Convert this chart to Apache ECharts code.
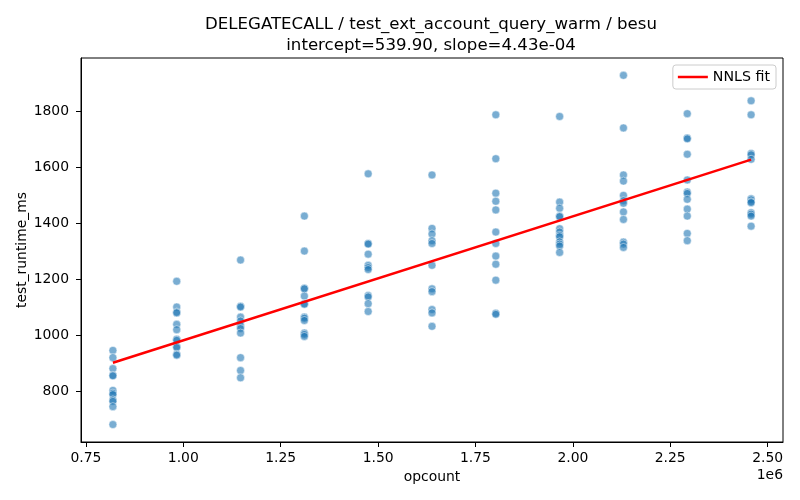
<!DOCTYPE html>
<html>
<head>
<meta charset="utf-8">
<title>DELEGATECALL / test_ext_account_query_warm / besu</title>
<script src="https://cdn.jsdelivr.net/npm/echarts@6/dist/echarts.min.js"></script>
<style>
  html, body { margin: 0; padding: 0; background: #fff; }
  #chart { width: 800px; height: 500px; }
</style>
</head>
<body>
<div id="chart"></div>
<script>
// opcount levels (x) and runtimes measured at each level (ms)
var opcounts = [819200, 983040, 1146880, 1310720, 1474560, 1638400, 1802240, 1966080, 2129920, 2293760, 2457600];
var runtimes = [
  [947, 921, 882, 858, 856, 804, 794, 789, 770, 765, 746, 682],
  [1194, 1102, 1084, 1081, 1040, 1021, 987, 983, 961, 957, 933, 930],
  [1270, 1105, 1102, 1066, 1052, 1035, 1025, 1009, 921, 875, 849],
  [1427, 1302, 1169, 1167, 1141, 1114, 1112, 1066, 1062, 1054, 1009, 1004, 997],
  [1578, 1329, 1327, 1291, 1251, 1243, 1236, 1143, 1138, 1114, 1086],
  [1574, 1383, 1363, 1339, 1329, 1251, 1167, 1157, 1093, 1081, 1033],
  [1789, 1632, 1509, 1480, 1449, 1370, 1329, 1284, 1255, 1198, 1080, 1076],
  [1783, 1477, 1455, 1427, 1425, 1382, 1370, 1358, 1353, 1335, 1327, 1320, 1297],
  [1930, 1742, 1574, 1552, 1501, 1482, 1473, 1442, 1415, 1334, 1327, 1315],
  [1793, 1706, 1703, 1648, 1556, 1513, 1508, 1487, 1452, 1427, 1365, 1339],
  [1839, 1789, 1651, 1646, 1630, 1489, 1485, 1478, 1475, 1439, 1434, 1427, 1391]
];
// NNLS fit line end points
var fitX = [819200, 2457600];
var fitY = [902.8, 1628.6];
var xTicks = [750000, 1000000, 1250000, 1500000, 1750000, 2000000, 2250000, 2500000];
var yTicks = [800, 1000, 1200, 1400, 1600, 1800];

var points = [];
opcounts.forEach(function (x, i) {
  runtimes[i].forEach(function (y) { points.push([x, y]); });
});
var fitLine = fitX.map(function (x, i) { return [x, fitY[i]]; });

var font = 'DejaVu Sans';
var chart = echarts.init(document.getElementById('chart'), null, {renderer: 'canvas'});
chart.setOption({
  animation: false,
  backgroundColor: '#fff',
  textStyle: {fontFamily: font},
  title: {
    text: 'DELEGATECALL / test_ext_account_query_warm / besu\nintercept=539.90, slope=4.43e-04',
    left: 426, top: 9, textAlign: 'center',
    textStyle: {fontFamily: font, fontSize: 16.6, fontWeight: 'normal', color: '#000', lineHeight: 21}
  },
  grid: {left: 81, right: 17, top: 58, bottom: 58, show: true, borderColor: '#000', borderWidth: 1, backgroundColor: 'transparent'},
  legend: {
    data: [{name: 'NNLS fit', icon: 'rect'}],
    right: 24, top: 65,
    itemWidth: 30, itemHeight: 2.5, itemGap: 8,
    padding: [5, 6, 5, 5],
    borderColor: '#cccccc', borderWidth: 1, borderRadius: 3,
    textStyle: {fontFamily: font, fontSize: 14.2, color: '#000'}
  },
  xAxis: {
    type: 'value', min: 737300, max: 2539500,
    name: 'opcount', nameLocation: 'middle', nameGap: 28,
    nameTextStyle: {fontFamily: font, fontSize: 13.9, color: '#000'},
    axisLine: {show: true, onZero: false, lineStyle: {color: '#000', width: 1}},
    axisTick: {show: true, length: 5, customValues: xTicks, lineStyle: {color: '#000'}},
    axisLabel: {
      customValues: xTicks, margin: 9, fontFamily: font, fontSize: 13.9, color: '#000',
      formatter: function (v) { return (v / 1e6).toFixed(2); }
    },
    splitLine: {show: false}
  },
  yAxis: {
    type: 'value', min: 619.6, max: 1992,
    name: 'test_runtime_ms', nameLocation: 'middle', nameGap: 52, nameMoveOverlap: false,
    nameTextStyle: {fontFamily: font, fontSize: 13.9, color: '#000'},
    axisLine: {show: true, onZero: false, lineStyle: {color: '#000', width: 1}},
    axisTick: {show: true, length: 5, customValues: yTicks, lineStyle: {color: '#000'}},
    axisLabel: {
      customValues: yTicks, margin: 12, fontFamily: font, fontSize: 13.9, color: '#000',
      formatter: function (v) { return String(v); }
    },
    splitLine: {show: false}
  },
  graphic: [{
    type: 'text', right: 17, top: 468,
    style: {text: '1e6', fontFamily: font, fontSize: 13.9, fill: '#000'}
  }],
  series: [{
    type: 'scatter',
    data: points,
    symbolSize: 8,
    itemStyle: {color: 'rgba(31,119,180,0.75)', borderColor: '#fff', borderWidth: 0.6}
  }, {
    name: 'NNLS fit',
    type: 'line',
    data: fitLine,
    symbol: 'none',
    lineStyle: {color: '#ff0000', width: 2.5},
    itemStyle: {color: '#ff0000'},
    z: 3
  }]
});
</script>
</body>
</html>
